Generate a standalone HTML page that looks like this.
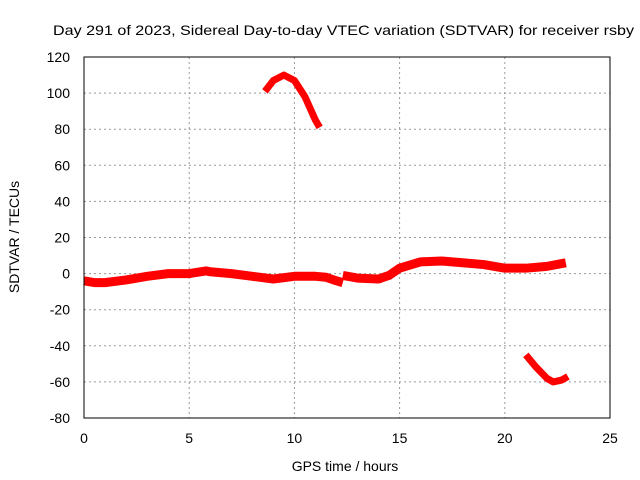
<!DOCTYPE html>
<html><head><meta charset="utf-8"><style>
body{margin:0;background:#fff}
svg{display:block;font-family:"Liberation Sans",sans-serif;font-size:14px}
</style></head><body>
<svg id="c" width="640" height="480">
<text x="53" y="35" textLength="581" lengthAdjust="spacingAndGlyphs">Day 291 of 2023, Sidereal Day-to-day VTEC variation (SDTVAR) for receiver rsby</text>
<text x="345" y="471" text-anchor="middle">GPS time / hours</text>
<text transform="translate(19,237) rotate(-90)" text-anchor="middle">SDTVAR / TECUs</text>
<g id="grid"></g><g id="ticks"></g><g id="series"></g>
<rect x="84" y="57" width="526" height="361" fill="none" stroke="#000"/>
</svg>
<script>
const xTicks=[0,5,10,15,20,25];
const yTicks=[120,100,80,60,40,20,0,-20,-40,-60,-80];
const mainHours=[0,0.5,1,2,3,4,5,5.8,6,7,8,9,10,11,11.5,12,12.3];
const mainVals=[-4,-5,-5,-3.5,-1.5,0,0,1.5,1,0,-1.5,-3,-1.5,-1.5,-2,-4,-5];
const main2Hours=[12.3,13,14,14.5,15,16,17,18,19,20,21,22,22.9];
const main2Vals=[-1,-2.5,-3,-1,3,6.5,7,6,5,3,3,4,6];
const arcHours=[8.6,9,9.5,10,10.5,11,11.2];
const arcVals=[101,107,110,107,98,85,81];
const lowHours=[21,21.5,22,22.3,22.7,23];
const lowVals=[-45,-52,-58,-60,-59,-57];
const X=h=>84+h*526/25, Y=v=>57+(120-v)*361/200;
const NS="http://www.w3.org/2000/svg";
const g=document.getElementById('grid'),t=document.getElementById('ticks'),s=document.getElementById('series');
function mk(tag,at,p){const e=document.createElementNS(NS,tag);for(const k in at)e.setAttribute(k,at[k]);p.appendChild(e);return e;}
xTicks.forEach(h=>{
 if(h>0&&h<25){const l=mk('line',{x1:X(h),x2:X(h),y1:57,y2:418,stroke:'#999','stroke-dasharray':'2,3'},g);
 
 }
 const tx=mk('text',{x:X(h),y:443,'text-anchor':'middle'},t);tx.textContent=h;
 
 
});
yTicks.forEach(v=>{
 if(v<120&&v>-80){const l=mk('line',{x1:84,x2:610,y1:Y(v),y2:Y(v),stroke:'#999','stroke-dasharray':'2,3'},g);
 
 }
 const tx=mk('text',{x:70,y:Y(v)+5,'text-anchor':'end'},t);tx.textContent=v;
 
 
});
function series(hs,vs,name,w){
 const pts=hs.map((h,i)=>X(h)+','+Y(vs[i])).join(' ');
 const p=mk('polyline',{points:pts,fill:'none',stroke:'#f00','stroke-width':w,'stroke-linejoin':'round'},s);
 
 
}
series(mainHours,mainVals,'sdtvar-series-main-a',9);
series(main2Hours,main2Vals,'sdtvar-series-main-b',9);
series(arcHours,arcVals,'sdtvar-series-upper-arc',7);
series(lowHours,lowVals,'sdtvar-series-lower-arc',7);
</script>
</body></html>
